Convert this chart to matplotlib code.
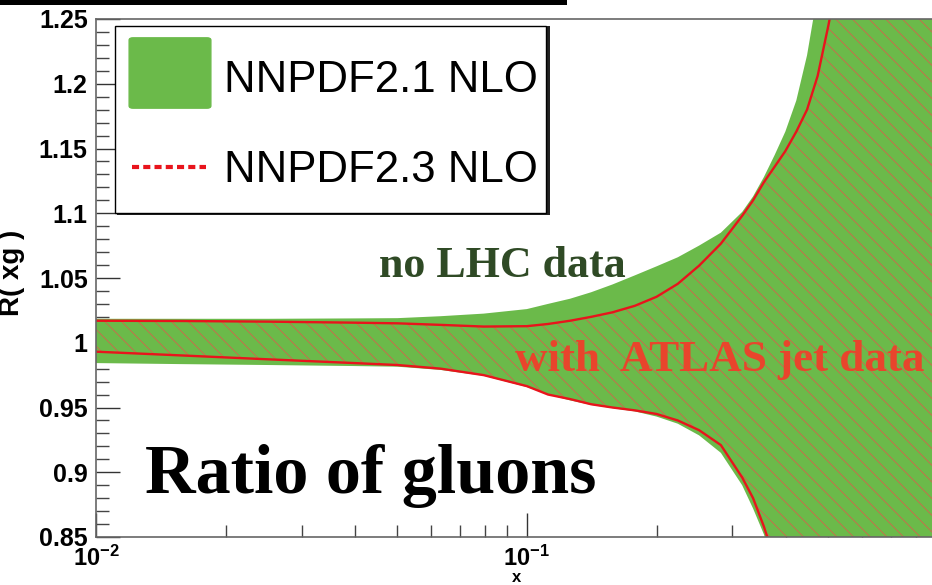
import numpy as np
import matplotlib
matplotlib.use("Agg")
import matplotlib.pyplot as plt
from matplotlib.patches import Rectangle, FancyBboxPatch
from matplotlib.lines import Line2D
from matplotlib.ticker import FixedLocator, FixedFormatter, NullFormatter

# ---------------- data ----------------
x = [0.01, 0.0158, 0.0251, 0.0398, 0.0501, 0.0631, 0.0794, 0.1, 0.112, 0.126,
     0.141, 0.158, 0.178, 0.2, 0.224, 0.251, 0.282, 0.316, 0.335, 0.355,
     0.376, 0.398, 0.422, 0.447, 0.473, 0.501, 0.562, 0.631, 0.794, 0.9]

# NNPDF2.1 NLO band (green)
nnpdf21_up = [1.0185, 1.0185, 1.0185, 1.0188, 1.0190, 1.0205, 1.0225, 1.0260, 1.0300, 1.0340,
              1.0390, 1.0450, 1.0520, 1.0590, 1.0660, 1.0750, 1.0850, 1.1010, 1.1130, 1.1280,
              1.1450, 1.1630, 1.1870, 1.2220, 1.2700, 1.3300, 1.4500, 1.6000, 1.9000, 2.0000]
nnpdf21_lo = [0.9843, 0.9835, 0.9828, 0.9820, 0.9815, 0.9790, 0.9745, 0.9658, 0.9600, 0.9555,
              0.9520, 0.9495, 0.9470, 0.9430, 0.9375, 0.9285, 0.9150, 0.8900, 0.8720, 0.8520,
              0.8260, 0.7950, 0.7650, 0.7250, 0.6850, 0.6450, 0.5750, 0.5000, 0.3500, 0.3000]

# NNPDF2.3 NLO band (red lines, hatched)
nnpdf23_up = [1.0170, 1.0168, 1.0163, 1.0155, 1.0150, 1.0138, 1.0125, 1.0128, 1.0145, 1.0170,
              1.0200, 1.0235, 1.0285, 1.0355, 1.0455, 1.0595, 1.0765, 1.0980, 1.1100, 1.1240,
              1.1360, 1.1480, 1.1630, 1.1800, 1.2060, 1.2450, 1.3300, 1.4500, 1.7000, 1.9000]
nnpdf23_lo = [0.9931, 0.9902, 0.9872, 0.9843, 0.9828, 0.9800, 0.9750, 0.9665, 0.9600, 0.9565,
              0.9525, 0.9500, 0.9478, 0.9450, 0.9400, 0.9325, 0.9210, 0.8960, 0.8800, 0.8580,
              0.8320, 0.8000, 0.7700, 0.7300, 0.6900, 0.6500, 0.5800, 0.5000, 0.3500, 0.3000]

legend_labels = ["NNPDF2.1 NLO", "NNPDF2.3 NLO"]
ytick_vals = [0.85, 0.9, 0.95, 1.0, 1.05, 1.1, 1.15, 1.2, 1.25]
ytick_labels = ["0.85", "0.9", "0.95", "1", "1.05", "1.1", "1.15", "1.2", "1.25"]
xtick_vals = [0.01, 0.1]
xtick_labels = [r"$\mathbf{10^{-2}}$", r"$\mathbf{10^{-1}}$"]

# ---------------- styling ----------------
W, H = 932, 585
plt.rcParams["font.family"] = ["Liberation Sans", "DejaVu Sans"]
plt.rcParams["mathtext.fontset"] = "custom"
plt.rcParams["mathtext.rm"] = "Liberation Sans:bold"
plt.rcParams["mathtext.bf"] = "Liberation Sans:bold"
plt.rcParams["mathtext.it"] = "Liberation Sans:italic:bold"
plt.rcParams["hatch.linewidth"] = 0.7

GREEN = "#6bba4a"
RED = "#e8141c"
HATCH = "#c4704a"
SPINE = "#666666"

fig = plt.figure(figsize=(W / 100, H / 100), dpi=100)

def fx(px):
    return px / W

def fy(py):
    return 1 - py / H

ax_left, ax_right, ax_top, ax_bot = 96, 938, 19, 537
ax = fig.add_axes([fx(ax_left), fy(ax_bot), (ax_right - ax_left) / W, (ax_bot - ax_top) / H])

ax.fill_between(x, nnpdf21_lo, nnpdf21_up, facecolor=GREEN, edgecolor="none", zorder=1)
ax.fill_between(x, nnpdf23_lo, nnpdf23_up, facecolor="none", edgecolor=HATCH,
                hatch="\\\\", linewidth=0, zorder=1.2)
ax.plot(x, nnpdf23_up, color=RED, lw=1.7, zorder=2)
ax.plot(x, nnpdf23_lo, color=RED, lw=1.7, zorder=2)

ax.set_xscale("log")
ax.set_xlim(0.01, 0.9)
ax.set_ylim(0.85, 1.25)
ax.set_axisbelow(True)

for s in ["left", "bottom", "top"]:
    ax.spines[s].set_color(SPINE)
    ax.spines[s].set_linewidth(1.2)
ax.spines["right"].set_visible(False)

ax.yaxis.set_major_locator(FixedLocator(ytick_vals))
ax.yaxis.set_major_formatter(FixedFormatter(ytick_labels))
ax.yaxis.set_minor_locator(FixedLocator(np.arange(0.85, 1.2501, 0.01)))
ax.xaxis.set_major_locator(FixedLocator(xtick_vals))
ax.xaxis.set_major_formatter(FixedFormatter(xtick_labels))
minor_x = [m * 10.0 ** e for e in (-2, -1) for m in range(2, 10)]
ax.xaxis.set_minor_locator(FixedLocator(minor_x))
ax.xaxis.set_minor_formatter(NullFormatter())

ax.tick_params(axis="both", which="major", direction="in", length=17, width=1.0,
               color="#333333")
ax.tick_params(axis="both", which="minor", direction="in", length=9, width=1.0,
               color="#444444")
ax.tick_params(axis="y", which="major", labelsize=18, pad=6)
ax.tick_params(axis="x", which="major", labelsize=17, pad=6.5)
ax.tick_params(top=False, right=False, which="both")
for lab in ax.get_yticklabels():
    lab.set_fontweight("bold")

ax.set_ylabel("R( xg )", fontsize=20, fontweight="bold")
ax.yaxis.set_label_coords((25 - ax_left) / (ax_right - ax_left), 0.51)

# x-axis title sits at the very bottom edge
fig.text(fx(517), fy(585), "x", fontsize=12, fontweight="bold", ha="center", va="bottom")

# ---------------- legend (drawn box) ----------------
shadow = Rectangle((fx(117), fy(215)), (548 - 115) / W, (215 - 26) / H,
                   transform=fig.transFigure, facecolor="#222222", edgecolor="none", zorder=5)
box = Rectangle((fx(115), fy(213)), (546 - 115) / W, (213 - 26) / H,
                transform=fig.transFigure, facecolor="white", edgecolor="black",
                linewidth=1.0, zorder=6)
fig.patches.extend([shadow, box])
sq = FancyBboxPatch((fx(131), fy(107)), (209 - 131) / W, (107 - 39) / H,
                    boxstyle="round,pad=0.002,rounding_size=0.004",
                    transform=fig.transFigure, facecolor=GREEN, edgecolor=GREEN, zorder=7)
fig.patches.append(sq)
fig.lines.append(Line2D([fx(132), fx(206)], [fy(167), fy(167)], transform=fig.transFigure,
                        color=RED, lw=3.0, linestyle=(0, (1.7, 1.0)), zorder=7))
fig.text(fx(224), fy(92), legend_labels[0], fontsize=31.5, color="black",
         ha="left", va="baseline", zorder=8)
fig.text(fx(224), fy(182), legend_labels[1], fontsize=31.5, color="black",
         ha="left", va="baseline", zorder=8)

# ---------------- annotations ----------------
serif = ["Liberation Serif", "DejaVu Serif"]
fig.text(fx(379), fy(277), "no LHC data", family=serif, fontsize=31.7, fontweight="bold",
         color="#2f4a25", ha="left", va="baseline", zorder=9)
fig.text(fx(515), fy(371), "with  ATLAS jet data", family=serif, fontsize=32.4,
         fontweight="bold", color="#e8452c", ha="left", va="baseline", zorder=9)
fig.text(fx(145), fy(493), "Ratio of gluons", family=serif, fontsize=50.5,
         fontweight="bold", color="black", ha="left", va="baseline", zorder=9)

# black bar at top (slide header remnant)
fig.patches.append(Rectangle((0, fy(5)), 567 / W, 5 / H, transform=fig.transFigure,
                             facecolor="black", edgecolor="none", zorder=10))

fig.savefig("out.png", dpi=100)
